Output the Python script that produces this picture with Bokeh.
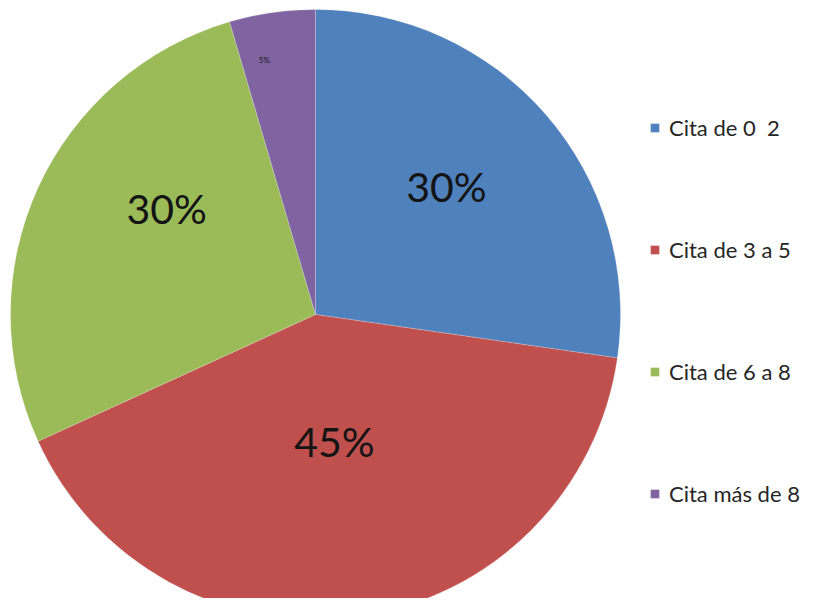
import math
from bokeh.plotting import figure
from bokeh.models import ColumnDataSource, Range1d, Legend, LegendItem
from bokeh.core.properties import value
from bokeh.embed import file_html
from bokeh.resources import INLINE

categories = ["Cita de 0  2", "Cita de 3 a 5", "Cita de 6 a 8", "Cita más de 8"]
values = [30, 45, 30, 5]
labels = ["30%", "45%", "30%", "5%"]
colors = ["#4F81BD", "#C0504D", "#9BBB59", "#8064A2"]

# label placement (fraction of radius, angle offset in degrees)
label_r = [0.60, 0.42, 0.60, 0.85]
label_da = [3.4, 0.3, -11.0, 3.2]
label_size = ["41px", "41px", "41px", "8px"]

W, H = 803, 598
cx, cy, R = 315, 284, 305

total = float(sum(values))
starts, ends, mids = [], [], []
a = math.pi / 2
for v in values:
    span = 2 * math.pi * v / total
    starts.append(a - span)
    ends.append(a)
    mids.append(a - span / 2)
    a -= span

src = ColumnDataSource(dict(cat=categories, start=starts, end=ends, color=colors,
                            x=[cx] * 4, y=[cy] * 4))

p = figure(width=W, height=H, output_backend="svg", toolbar_location=None,
           x_range=Range1d(0, W), y_range=Range1d(0, H), min_border=0,
           outline_line_color=None)
p.axis.visible = False
p.grid.visible = False

r = p.wedge(x="x", y="y", radius=R, start_angle="start", end_angle="end",
            fill_color="color", line_color="white", line_width=0.5, line_alpha=0.4,
            source=src)

lx, ly = [], []
for m, rf, da in zip(mids, label_r, label_da):
    ang = m + math.radians(da)
    lx.append(cx + rf * R * math.cos(ang))
    ly.append(cy + rf * R * math.sin(ang))
lsrc = ColumnDataSource(dict(x=lx, y=ly, t=labels, s=label_size))
p.text(x="x", y="y", text="t", text_font_size="s", text_font=value("Lato"),
       text_color="#141414", text_align="center", text_baseline="middle", source=lsrc)

legend = Legend(items=[LegendItem(label=c, renderers=[r], index=i) for i, c in enumerate(categories)],
                location=(649, 91), label_text_font="Lato", label_text_font_size="22px",
                label_text_color="#262626", glyph_width=11, glyph_height=11, spacing=95,
                border_line_color=None, background_fill_alpha=0, padding=0, margin=0,
                label_standoff=9)
p.add_layout(legend, "center")

open("out.html", "w").write(file_html(p, INLINE))
